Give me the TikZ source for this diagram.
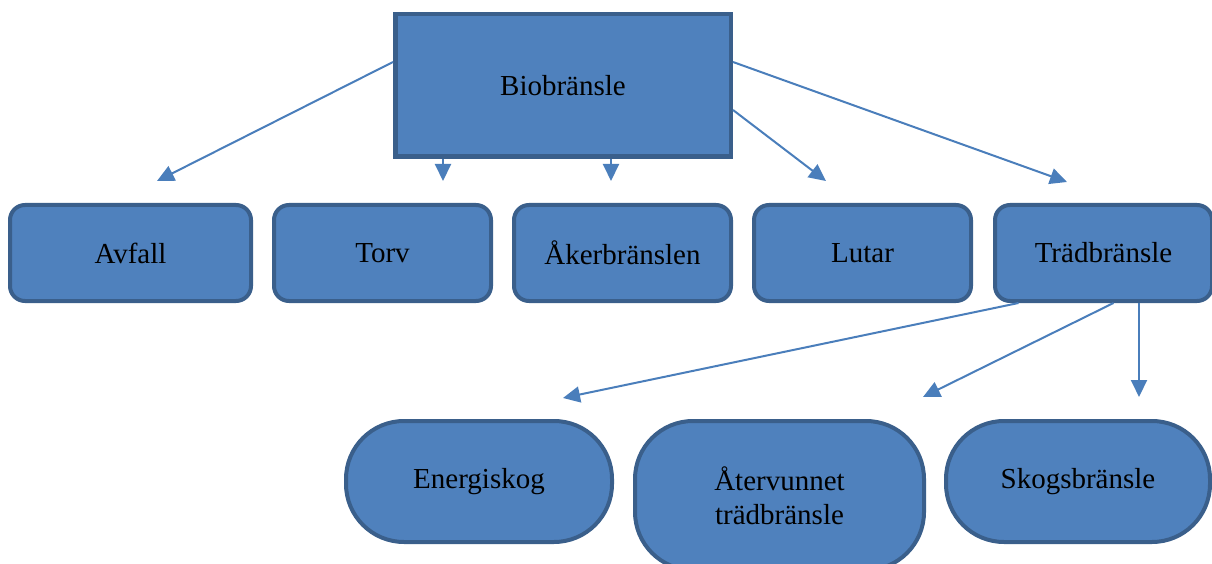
\documentclass[tikz,border=0pt]{standalone}
\usepackage{fontspec}
\setmainfont{Liberation Serif}
\usetikzlibrary{arrows.meta}
\definecolor{boxfill}{HTML}{4F81BD}
\definecolor{boxline}{HTML}{3A5F8B}
\definecolor{arrowcol}{HTML}{4A7EBB}
\tikzset{
  topbox/.style={draw=boxline, fill=boxfill, line width=4.5pt, inner sep=0pt,
    minimum width=335.5pt, minimum height=142.5pt, font=\fontsize{29}{34}\selectfont},
  midbox/.style={draw=boxline, fill=boxfill, line width=4pt, rounded corners=15pt, inner sep=0pt,
    minimum height=96pt, minimum width=217pt, font=\fontsize{29}{34}\selectfont},
  lowbox/.style={draw=boxline, fill=boxfill, line width=4pt, rounded corners=58pt, inner sep=0pt,
    minimum height=121pt, font=\fontsize{29}{34}\selectfont, align=center},
  arr/.style={draw=arrowcol, line width=2pt, -{Triangle[length=17pt,width=16pt]}},
}
\begin{document}
\begin{tikzpicture}[x=1pt,y=-1pt]
\useasboundingbox (0,0) rectangle (1212,564);
\clip (0,0) rectangle (1212,564);
% nodes
\node[topbox] (bio) at (563,85.5) {Biobränsle};
\node[midbox, minimum width=241pt] (avf) at (130.5,253) {Avfall};
\node[midbox] (torv) at (382.5,253) {Torv};
\node[midbox] (aker) at (622.5,253) {Åkerbränslen};
\node[midbox] (lut) at (862.5,253) {Lutar};
\node[midbox] (trad) at (1103.5,253) {Trädbränsle};
\node[lowbox, minimum width=266pt] (ener) at (479,481.5) {Energiskog};
\node[lowbox, minimum width=289pt, minimum height=149pt] (ater) at (779.5,495.5) {Återvunnet\\trädbränsle};
\node[lowbox, minimum width=264pt] (skog) at (1078,481.5) {Skogsbränsle};
% free arrow ends
\coordinate (e1) at (157,181);
\coordinate (e2) at (443,181);
\coordinate (e3) at (611,181);
\coordinate (e4) at (826,181);
\coordinate (e5) at (1067,182);
\coordinate (f1) at (563,398);
\coordinate (f2) at (923,397);
\coordinate (f3) at (1139,397);
% connectors
\draw[arr] ([yshift=23.5pt]bio.west) -- (e1);
\draw[arr] (bio.south -| e2) -- (e2);
\draw[arr] (bio.south -| e3) -- (e3);
\draw[arr] ([yshift=-24.5pt]bio.east) -- (e4);
\draw[arr] ([yshift=23.5pt]bio.east) -- (e5);
\draw[arr] ([xshift=-85pt]trad.south) -- (f1);
\draw[arr] ([xshift=10pt]trad.south) -- (f2);
\draw[arr] (trad.south -| f3) -- (f3);
\end{tikzpicture}
\end{document}
